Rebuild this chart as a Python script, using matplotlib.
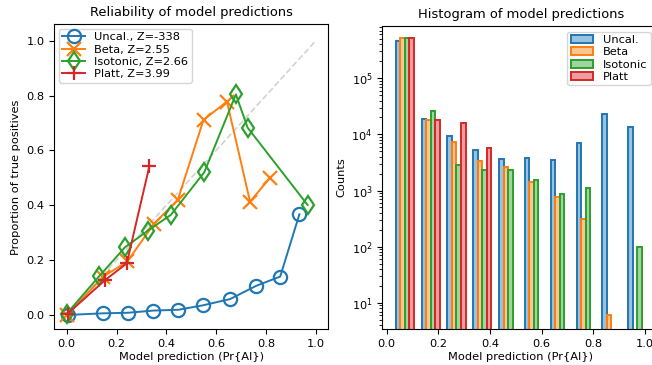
import numpy as np
import matplotlib
matplotlib.use("Agg")
import matplotlib.pyplot as plt

# reliability curves (x = mean prediction, y = fraction of positives)
uncal_x = [0.005, 0.145, 0.245, 0.348, 0.448, 0.546, 0.656, 0.760, 0.857, 0.934]
uncal_y = [0.0, 0.006, 0.008, 0.016, 0.019, 0.035, 0.058, 0.106, 0.140, 0.367]
beta_x = [0.0, 0.147, 0.243, 0.350, 0.446, 0.549, 0.643, 0.736, 0.814]
beta_y = [0.0, 0.140, 0.195, 0.332, 0.420, 0.711, 0.778, 0.413, 0.498]
iso_x = [0.0, 0.131, 0.234, 0.325, 0.418, 0.552, 0.679, 0.726, 0.967]
iso_y = [0.005, 0.142, 0.247, 0.307, 0.365, 0.520, 0.804, 0.683, 0.401]
platt_x = [0.004, 0.155, 0.241, 0.332]
platt_y = [0.005, 0.128, 0.188, 0.544]

labels = ["Uncal.", "Beta", "Isotonic", "Platt"]
z_scores = ["-338", "2.55", "2.66", "3.99"]

# histogram counts per bin of width 0.1 (0 = empty bin)
bin_lo = np.arange(10) * 0.1
uncal_counts = [4.6e5, 1.86e4, 9.5e3, 5.2e3, 3.6e3, 3.8e3, 3.5e3, 7.0e3, 2.3e4, 1.35e4]
beta_counts = [5.1e5, 1.8e4, 7.3e3, 3.3e3, 2.6e3, 1.4e3, 7.8e2, 3.1e2, 6, 0]
iso_counts = [5.1e5, 2.6e4, 2.86e3, 2.35e3, 2.3e3, 1.56e3, 8.6e2, 1.1e3, 0, 1.0e2]
platt_counts = [5.1e5, 1.8e4, 1.6e4, 5.8e3, 0, 0, 0, 0, 0, 0]

colors = ["tab:blue", "tab:orange", "tab:green", "tab:red"]

fig = plt.figure(figsize=(6.52, 3.65), dpi=100)
ax1 = fig.add_axes([0.0833, 0.098, 0.4202, 0.835])
ax2 = fig.add_axes([0.5864, 0.098, 0.4243, 0.831])

fs = 8.2
tfs = 9.4

# --- reliability diagram
ax1.plot([0, 1], [0, 1], "--", color="lightgray", lw=1.2)
curves = [(uncal_x, uncal_y, "o"), (beta_x, beta_y, "x"),
          (iso_x, iso_y, "d"), (platt_x, platt_y, "+")]
for (xs, ys, m), c, lab, z in zip(curves, colors, labels, z_scores):
    ax1.plot(xs, ys, marker=m, color=c, lw=1.4, ms=9.5, mew=1.6,
             mfc="none", label=f"{lab}, Z={z}")
ax1.set_xlim(-0.05, 1.05)
ax1.set_ylim(-0.052, 1.059)
ax1.set_xticks(np.arange(0, 1.01, 0.2))
ax1.set_yticks(np.arange(0, 1.01, 0.2))
ax1.set_title("Reliability of model predictions", fontsize=tfs)
ax1.set_xlabel("Model prediction (Pr{AI})", fontsize=fs, labelpad=2)
ax1.set_ylabel("Proportion of true positives", fontsize=fs)
ax1.tick_params(labelsize=fs)
ax1.legend(loc="upper left", fontsize=fs, handlelength=2.0,
           borderaxespad=0.4, labelspacing=0.2, borderpad=0.3)

# --- histogram
all_counts = [uncal_counts, beta_counts, iso_counts, platt_counts]
width = 0.0175
for i, (cnt, c, lab) in enumerate(zip(all_counts, colors, labels)):
    cnt = np.array(cnt, dtype=float)
    keep = cnt > 0
    ax2.bar(bin_lo[keep] + 0.035 + i * width, cnt[keep], width=width,
            align="edge", facecolor=matplotlib.colors.to_rgba(c, 0.45),
            edgecolor=c, lw=1.4, label=lab)
ax2.set_yscale("log")
ax2.set_xlim(-0.017, 1.054)
ax2.set_ylim(3.4, 8.5e5)
ax2.set_xticks(np.arange(0, 1.01, 0.2))
ax2.set_title("Histogram of model predictions", fontsize=tfs)
ax2.set_xlabel("Model prediction (Pr{AI})", fontsize=fs, labelpad=2)
ax2.set_ylabel("Counts", fontsize=fs)
ax2.tick_params(labelsize=fs)
ax2.legend(loc="upper right", fontsize=fs, bbox_to_anchor=(0.99, 1.0),
           labelspacing=0.2, borderpad=0.3)

fig.savefig("out.png", dpi=100)
